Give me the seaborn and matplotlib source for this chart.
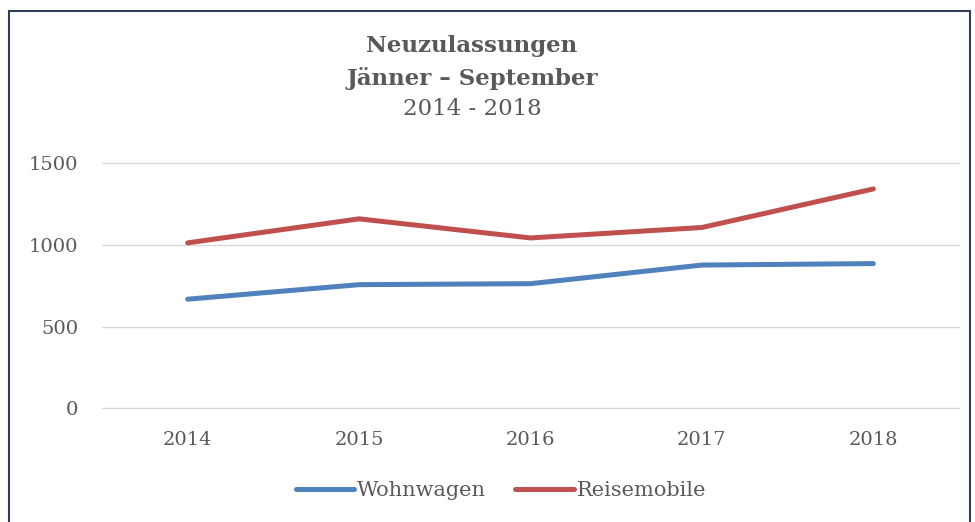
import numpy as np
import pandas as pd
import seaborn as sns
import matplotlib.pyplot as plt
from matplotlib.patches import Rectangle

years = ["2014", "2015", "2016", "2017", "2018"]
wohnwagen = [668, 757, 763, 877, 886]
reisemobile = [1013, 1160, 1043, 1107, 1343]

df = pd.DataFrame({
    "Jahr": years * 2,
    "Anzahl": wohnwagen + reisemobile,
    "Typ": ["Wohnwagen"] * len(years) + ["Reisemobile"] * len(years),
})

sns.set_style("white")
plt.rcParams['font.family'] = ['DejaVu Serif']
grey = "#595959"

fig = plt.figure(figsize=(9.75, 5.22), dpi=100)
ax = fig.add_axes([102 / 975, 1 - 408.3 / 522, (959 - 102) / 975, (408.3 - 163.3) / 522])

sns.lineplot(data=df, x="Jahr", y="Anzahl", hue="Typ",
             palette={"Wohnwagen": "#4F81BD", "Reisemobile": "#C0504D"},
             linewidth=3.6, ax=ax, sort=False,
             solid_capstyle="round", solid_joinstyle="round")

ax.set_xlim(-0.5, 4.5)
ax.set_ylim(0, 1500)
ax.set_yticks([0, 500, 1000, 1500])
ax.yaxis.grid(True, color="#D9D9D9", linewidth=1.0)
for gl in ax.get_ygridlines():
    gl.set_clip_on(False)
ax.set_axisbelow(True)
for s in ax.spines.values():
    s.set_visible(False)
ax.tick_params(axis="both", length=0, labelsize=14, labelcolor=grey)
ax.tick_params(axis="x", pad=16)
ax.tick_params(axis="y", pad=17)
ax.set_xlabel("")
ax.set_ylabel("")

ax.legend_.remove()
handles, labels = ax.get_legend_handles_labels()
fig.legend(handles, labels, loc="center", bbox_to_anchor=(501 / 975, 1 - 491 / 522),
           ncol=2, frameon=False, fontsize=15, labelcolor=grey,
           handlelength=2.8, handletextpad=0.15, columnspacing=1.4)

fig.text(472 / 975, 1 - 46 / 522, "Neuzulassungen", ha="center", va="center",
         fontsize=16.5, fontweight="bold", color=grey)
fig.text(472 / 975, 1 - 79 / 522, "Jänner – September", ha="center", va="center",
         fontsize=16.5, fontweight="bold", color=grey)
fig.text(472 / 975, 1 - 109 / 522, "2014 - 2018", ha="center", va="center",
         fontsize=16.5, color=grey)

# chart border
fig.patches.append(Rectangle((9 / 975, -0.05), (970 - 9) / 975, 1 - 11 / 522 + 0.05,
                             transform=fig.transFigure, fill=False,
                             edgecolor="#2F3F5A", linewidth=1.5))

fig.savefig("out.png", dpi=100)
